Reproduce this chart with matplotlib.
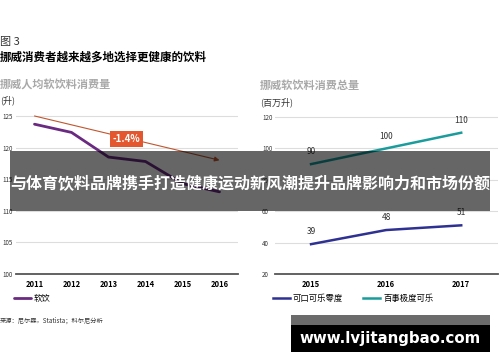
import numpy as np
import matplotlib.pyplot as plt
from matplotlib.patches import Rectangle

plt.rcParams['font.family'] = ['Noto Sans CJK SC', 'DejaVu Sans']
plt.rcParams['axes.unicode_minus'] = False

# 左图：挪威人均软饮料消费量（升）
years_l = [2011, 2012, 2013, 2014, 2015, 2016]
soft = [123.7, 122.4, 118.5, 117.8, 114.3, 113.0]
trend_start = 125.0
trend_end = 118.0
trend_label = '-1.4%'

# 右图：挪威软饮料消费总量（百万升）
years_r = [2015, 2016, 2017]
coke_zero = [39, 48, 51]
pepsi_max = [90, 100, 110]

W, H = 500, 362
fig = plt.figure(figsize=(W / 100, H / 100), dpi=100)


def fx(px):
    return px / W


def fy(py):
    return 1 - py / H


def style_axis(ax, yticks, pad):
    for s in ['top', 'right', 'left']:
        ax.spines[s].set_visible(False)
    ax.spines['bottom'].set_color('#555555')
    ax.spines['bottom'].set_linewidth(1.3)
    ax.set_yticks(yticks)
    ax.grid(axis='y', color='#dddddd', lw=0.8)
    ax.set_axisbelow(True)
    ax.tick_params(axis='y', length=0, labelsize=4.5, labelcolor='#333333', pad=pad)
    ax.tick_params(axis='x', length=0, labelsize=5.5, pad=4)
    for t in ax.get_xticklabels():
        t.set_fontweight('bold')
    for t in ax.get_yticklabels():
        t.set_horizontalalignment('left')


# 左图
axl = fig.add_axes([fx(16), fy(274), fx(222), fy(112) - fy(274)])
axl.set_xlim(2010.5, 2016.5)
axl.set_ylim(100, 125.63)
axl.set_xticks(years_l)
axl.plot(years_l, soft, color='#6a2a80', lw=2, solid_capstyle='round')
axl.annotate('', xy=(years_l[-1], trend_end), xytext=(years_l[0], trend_start),
             arrowprops=dict(arrowstyle='-|>', color='#c0562f', lw=0.8,
                             mutation_scale=7, shrinkA=0, shrinkB=0))
axl.text(2013.49, 121.36, trend_label, color='white', fontsize=7, fontweight='bold',
         ha='center', va='center',
         bbox=dict(boxstyle='square,pad=0.3', fc='#e4572e', ec='none'))
style_axis(axl, [100, 105, 110, 115, 120, 125], pad=10)

# 右图
axr = fig.add_axes([fx(275), fy(274), fx(223), fy(112) - fy(274)])
axr.set_xlim(2014.52, 2017.49)
axr.set_ylim(20, 123.2)
axr.set_xticks(years_r)
axr.plot(years_r, coke_zero, color='#2e3192', lw=1.8, label='可口可乐零度')
axr.plot(years_r, pepsi_max, color='#1a9c9c', lw=1.8, label='百事极度可乐')
for x, y in zip(years_r, coke_zero):
    axr.text(x, y + 5, str(y), fontsize=6, color='#333333', ha='center', va='bottom')
for x, y in zip(years_r, pepsi_max):
    axr.text(x, y + 5, str(y), fontsize=6, color='#333333', ha='center', va='bottom')
style_axis(axr, [20, 40, 60, 80, 100, 120], pad=9.4)

# 图例
axl.legend(axl.lines[:1], ['软饮'], loc='center left', bbox_to_anchor=(fx(14), fy(298)),
           bbox_transform=fig.transFigure, frameon=False, fontsize=6,
           handlelength=2.0, handletextpad=0.4, borderpad=0, borderaxespad=0)
axr.legend(loc='center left', bbox_to_anchor=(fx(273), fy(298)),
           bbox_transform=fig.transFigure, frameon=False, fontsize=6, ncol=2,
           handlelength=2.0, handletextpad=0.4, columnspacing=2.4,
           borderpad=0, borderaxespad=0)

# 标题
fig.text(fx(0), fy(42), '图 3', fontsize=8, color='#333333', va='center')
fig.text(fx(0), fy(57), '挪威消费者越来越多地选择更健康的饮料', fontsize=8.3,
         fontweight='bold', color='black', va='center')
fig.text(fx(0), fy(84), '挪威人均软饮料消费量', fontsize=8, fontweight='bold',
         color='#a8a8a8', va='center')
fig.text(fx(0), fy(100), '(升)', fontsize=6.5, color='#333333', va='center')
fig.text(fx(260), fy(85), '挪威软饮料消费总量', fontsize=8, fontweight='bold',
         color='#a8a8a8', va='center')
fig.text(fx(260), fy(102), '(百万升)', fontsize=6.5, color='#333333', va='center')
fig.text(fx(0), fy(321), '来源：尼尔森，Statista；科尔尼分析', fontsize=4.5,
         color='#333333', va='center')

# 半透明覆盖横幅
fig.patches.append(Rectangle((fx(10), fy(211)), fx(480), fy(151) - fy(211),
                             transform=fig.transFigure, fc='black', alpha=0.6,
                             ec='none', zorder=10))
fig.text(fx(250), fy(184), '与体育饮料品牌携手打造健康运动新风潮提升品牌影响力和市场份额',
         fontsize=11.5, fontweight='bold', color='white', ha='center', va='center', zorder=11)

# 水印
fig.patches.append(Rectangle((fx(291), fy(325)), fx(199), fy(315) - fy(325),
                             transform=fig.transFigure, fc='#6b6b6b', ec='none', zorder=10))
fig.patches.append(Rectangle((fx(291), fy(352)), fx(199), fy(325) - fy(352),
                             transform=fig.transFigure, fc='black', ec='none', zorder=10))
fig.text(fx(390), fy(338), 'www.lvjitangbao.com', fontsize=10.8, fontweight='bold',
         color='white', ha='center', va='center', family='DejaVu Sans', zorder=11)

fig.savefig('out.png', dpi=100, facecolor='white')
